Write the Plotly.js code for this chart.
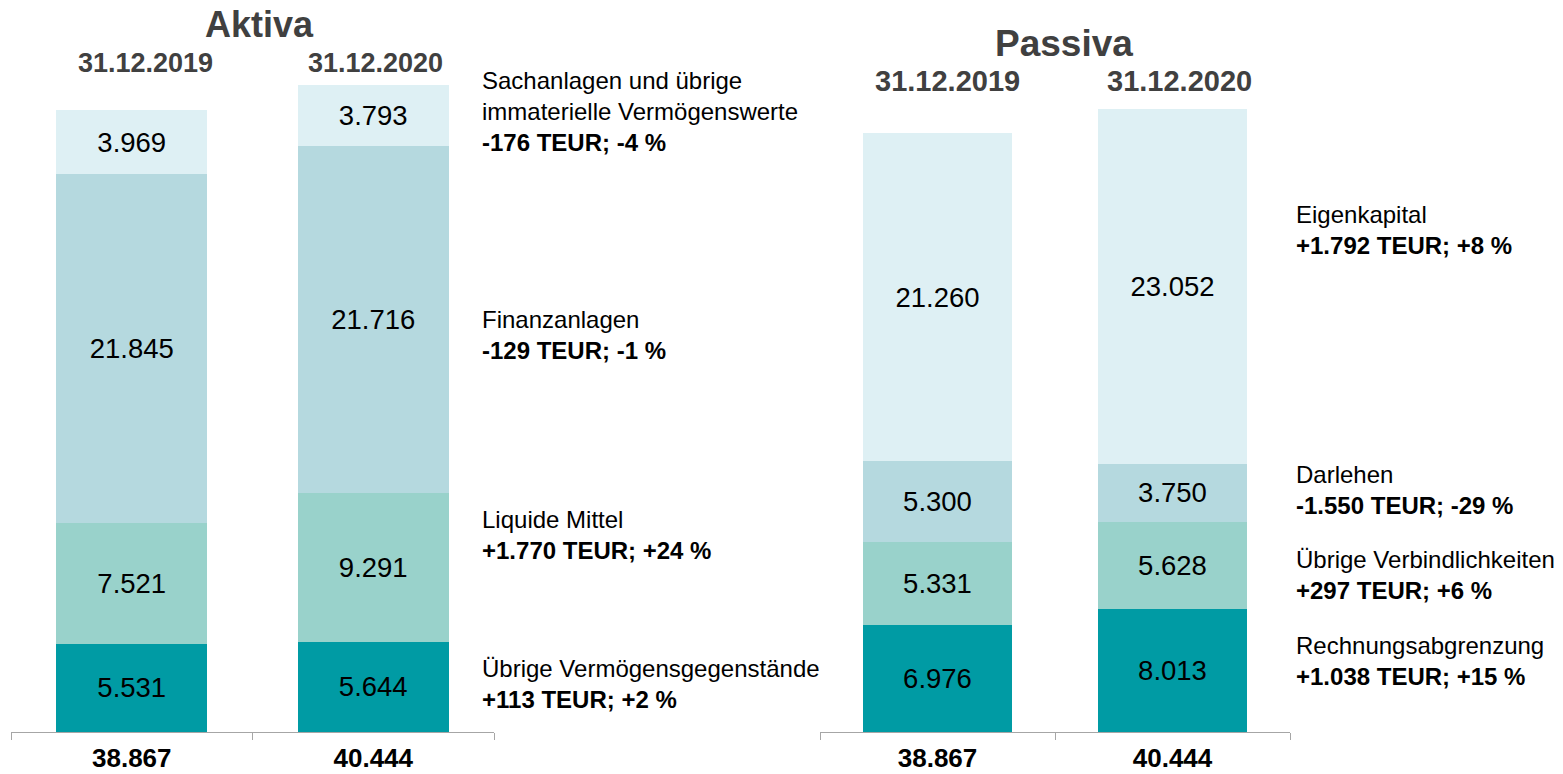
<!DOCTYPE html>
<html>
<head>
<meta charset="utf-8">
<script src="https://cdn.plot.ly/plotly-3.0.1.min.js"></script>
<style>
html,body{margin:0;padding:0;background:#fff;}
#chart{width:1563px;height:774px;}
</style>
</head>
<body>
<div id="chart"></div>
<script>
// ---- Data ----
const dates = ["31.12.2019", "31.12.2020"];

// Aktiva (bottom to top)
const aktivaUebrigeVG = [5531, 5644];
const aktivaLiquide = [7521, 9291];
const aktivaFinanz = [21845, 21716];
const aktivaSach = [3969, 3793];
const aktivaTotal = [38867, 40444];

// Passiva (bottom to top)
const passivaRAP = [6976, 8013];
const passivaVerb = [5331, 5628];
const passivaDarlehen = [5300, 3750];
const passivaEK = [21260, 23052];
const passivaTotal = [38867, 40444];

const aktivaNames = ["Übrige Vermögensgegenstände", "Liquide Mittel", "Finanzanlagen", "Sachanlagen und übrige<br>immaterielle Vermögenswerte"];
const aktivaChanges = ["+113 TEUR; +2 %", "+1.770 TEUR; +24 %", "-129 TEUR; -1 %", "-176 TEUR; -4 %"];
const passivaNames = ["Rechnungsabgrenzung", "Übrige Verbindlichkeiten", "Darlehen", "Eigenkapital"];
const passivaChanges = ["+1.038 TEUR; +15 %", "+297 TEUR; +6 %", "-1.550 TEUR; -29 %", "+1.792 TEUR; +8 %"];

// ---- Style ----
const FONT = "Liberation Sans, Arial, sans-serif";
const colors = ["#009BA4", "#99D2CB", "#B5D9DF", "#DEF0F4"];
const W = 1563, PH = 732;
const px = x => x / W;
const py = y => 1 - y / PH;

function fmt(n) {
  return String(Math.round(n)).replace(/\B(?=(\d{3})+(?!\d))/g, ".");
}

function barTrace(vals, i, xa, ya, width) {
  return {
    type: "bar", x: dates, y: vals, xaxis: xa, yaxis: ya,
    width: [width, width],
    marker: {color: colors[i], line: {width: 0}},
    texttemplate: "%{y:,.0f}",
    textposition: "inside",
    insidetextanchor: "middle",
    textangle: 0,
    constraintext: "none",
    textfont: {family: FONT, size: 27.5, color: "#000"},
    hoverinfo: "skip",
    showlegend: false
  };
}

const aktivaSeries = [aktivaUebrigeVG, aktivaLiquide, aktivaFinanz, aktivaSach];
const passivaSeries = [passivaRAP, passivaVerb, passivaDarlehen, passivaEK];

const data = [];
aktivaSeries.forEach((s, i) => data.push(barTrace(s, i, "x", "y", 0.625)));
passivaSeries.forEach((s, i) => data.push(barTrace(s, i, "x2", "y2", 0.63)));

const xaxisBase = {
  type: "category",
  showline: true, linecolor: "#A6A6A6", linewidth: 1,
  ticks: "outside", tickson: "boundaries", ticklen: 7, tickcolor: "#A6A6A6",
  showgrid: false, zeroline: false,
  tickmode: "array", tickvals: dates,
  tickfont: {family: FONT, size: 26, color: "#000", weight: "bold"},
  ticklabelstandoff: 3,
  range: [-0.5, 1.5], fixedrange: true
};

const annotations = [];
function ann(text, x, y, opts) {
  annotations.push(Object.assign({
    text: text, xref: "paper", yref: "paper", x: px(x), y: py(y),
    xanchor: "left", yanchor: "middle", showarrow: false, align: "left",
    font: {family: FONT, size: 24, color: "#000"}
  }, opts || {}));
}

// Titles
ann("<b>Aktiva</b>", 259, 24, {xanchor: "center", font: {family: FONT, size: 36, color: "#404040"}});
ann("<b>Passiva</b>", 1064, 43, {xanchor: "center", font: {family: FONT, size: 37, color: "#404040"}});
// Date headers
ann("<b>" + dates[0] + "</b>", 145, 63, {xanchor: "center", font: {family: FONT, size: 27, color: "#404040"}});
ann("<b>" + dates[1] + "</b>", 375, 63, {xanchor: "center", font: {family: FONT, size: 27, color: "#404040"}});
ann("<b>" + dates[0] + "</b>", 947, 81, {xanchor: "center", font: {family: FONT, size: 29, color: "#404040"}});
ann("<b>" + dates[1] + "</b>", 1179, 81, {xanchor: "center", font: {family: FONT, size: 29, color: "#404040"}});

// Change labels
const aktivaLabelY = [683.5, 534.5, 335.5, 112];
aktivaNames.forEach((n, i) => ann(n + "<br><b>" + aktivaChanges[i] + "</b>", 480, aktivaLabelY[i]));
const passivaLabelY = [661, 575, 489.5, 229.5];
passivaNames.forEach((n, i) => ann(n + "<br><b>" + passivaChanges[i] + "</b>", 1294, passivaLabelY[i]));

const layout = {
  width: 1563, height: 774,
  margin: {l: 0, r: 0, t: 0, b: 42},
  paper_bgcolor: "#fff", plot_bgcolor: "rgba(0,0,0,0)",
  barmode: "stack",
  separators: ",.",
  font: {family: FONT},
  showlegend: false,
  xaxis: Object.assign({}, xaxisBase, {domain: [px(11), px(494)], anchor: "y", ticktext: aktivaTotal.map(fmt)}),
  yaxis: {domain: [0, 1], range: [0, 45758], visible: false, fixedrange: true, anchor: "x"},
  xaxis2: Object.assign({}, xaxisBase, {domain: [px(820), px(1290)], anchor: "y2", ticktext: passivaTotal.map(fmt)}),
  yaxis2: {domain: [0, 1], range: [0, 47521], visible: false, fixedrange: true, anchor: "x2"},
  annotations: annotations
};

Plotly.newPlot("chart", data, layout, {staticPlot: true, displayModeBar: false});
</script>
</body>
</html>
